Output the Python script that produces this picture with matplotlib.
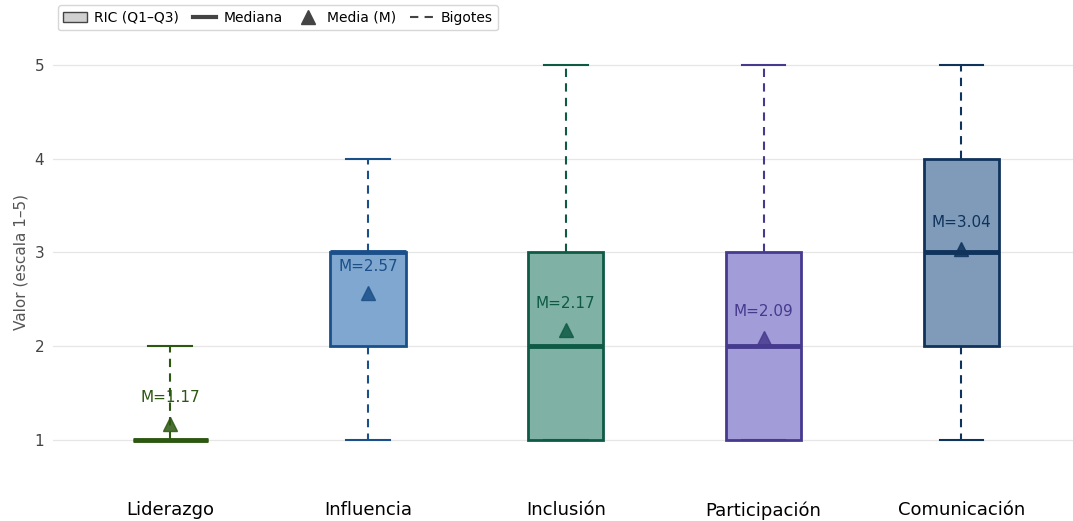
import numpy as np
import matplotlib.pyplot as plt
from matplotlib.patches import Patch
from matplotlib.lines import Line2D

categorias = ["Liderazgo", "Influencia", "Inclusión", "Participación", "Comunicación"]
q1 = [1, 2, 1, 1, 2]
mediana = [1, 3, 2, 2, 3]
q3 = [1, 3, 3, 3, 4]
bigote_inf = [1, 1, 1, 1, 1]
bigote_sup = [2, 4, 5, 5, 5]
media = [1.17, 2.57, 2.17, 2.09, 3.04]

bordes = ["#2b5710", "#1b4f8a", "#0e5a45", "#463a8e", "#10335c"]
rellenos = ["#7fa05f", "#80a7cf", "#7fb2a5", "#a29cd8", "#7f9bb9"]

fig, ax = plt.subplots(figsize=(10.73, 5.21), dpi=100)
fig.subplots_adjust(left=0.049, right=1.0, top=0.93, bottom=0.065)

pos = np.arange(len(categorias))
for i in range(len(categorias)):
    st = [dict(med=mediana[i], q1=q1[i], q3=q3[i], whislo=bigote_inf[i],
               whishi=bigote_sup[i], fliers=[], label=categorias[i])]
    c = bordes[i]
    ax.bxp(st, positions=[pos[i]], widths=0.38, patch_artist=True,
           showfliers=False, capwidths=0.22,
           boxprops=dict(facecolor=rellenos[i], edgecolor=c, linewidth=2),
           medianprops=dict(color=c, linewidth=3.5),
           whiskerprops=dict(color=c, linewidth=1.5, linestyle=(0, (4, 3))),
           capprops=dict(color=c, linewidth=1.5))
    ax.plot(pos[i], media[i], marker="^", markersize=10, color=c,
            markerfacecolor=c, alpha=0.85, zorder=5, linestyle="none")
    ax.annotate(f"M={media[i]:.2f}", (pos[i], media[i]), textcoords="offset points",
                xytext=(0, 19), ha="center", va="center", fontsize=11, color=c, zorder=6)

ax.set_xticks(pos)
ax.set_xticklabels(categorias, fontsize=13)
ax.set_xlim(-0.595, 4.565)
ax.set_ylim(0.5, 5.3)
ax.set_yticks([1, 2, 3, 4, 5])
ax.tick_params(axis="y", labelsize=11, labelcolor="#444444", length=0, pad=6)
ax.tick_params(axis="x", length=0, pad=10)
ax.set_ylabel("Valor (escala 1–5)", fontsize=11, color="#555555")
ax.grid(axis="y", color="#e6e6e6", linewidth=0.9)
ax.set_axisbelow(True)
for s in ax.spines.values():
    s.set_visible(False)

handles = [
    Patch(facecolor="#d0d0d0", edgecolor="#444444", label="RIC (Q1–Q3)"),
    Line2D([], [], color="#444444", linewidth=3, label="Mediana"),
    Line2D([], [], color="#444444", marker="^", markersize=10, linestyle="none", label="Media (M)"),
    Line2D([], [], color="#444444", linewidth=1.5, linestyle=(0, (4, 3)), label="Bigotes"),
]
fig.legend(handles=handles, loc="upper left", bbox_to_anchor=(0.05, 0.998), ncol=4,
           fontsize=10, frameon=True, handlelength=1.7, columnspacing=1.0,
           handletextpad=0.5, borderpad=0.4, borderaxespad=0.3, edgecolor="#cccccc")

fig.savefig("out.png", dpi=100)
